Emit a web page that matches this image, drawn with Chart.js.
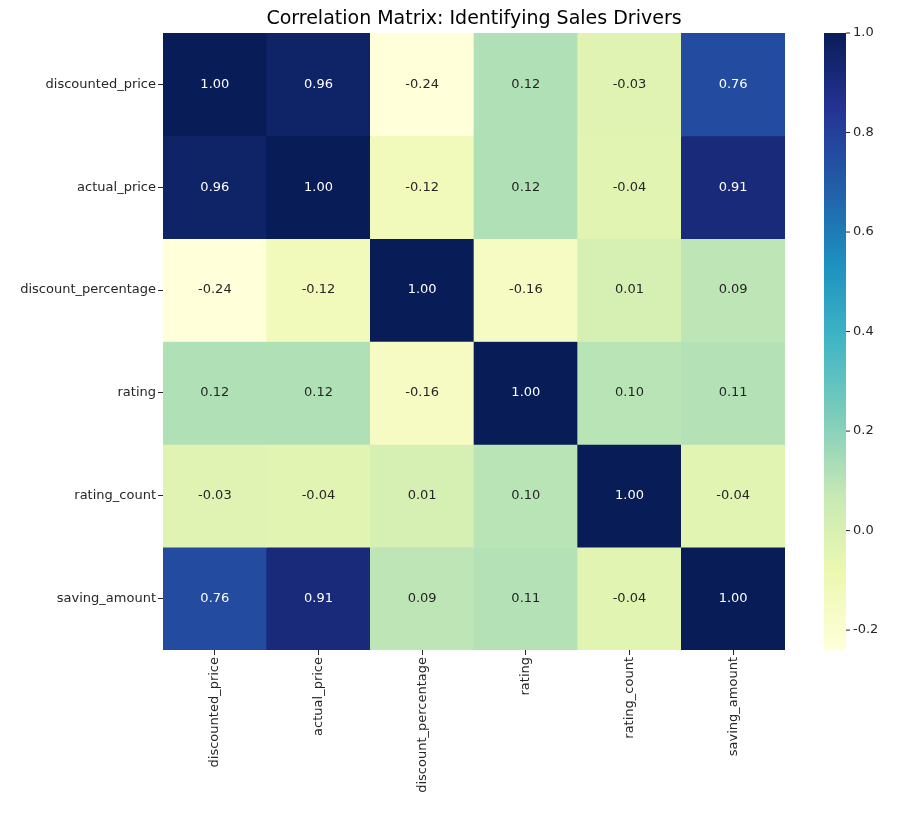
<!DOCTYPE html>
<html><head><meta charset="utf-8">
<script src="https://cdn.jsdelivr.net/npm/chart.js@4"></script>
<style>body{margin:0;background:#fff}#wrap{width:907px;height:815px}</style>
</head><body><div id="wrap"><canvas id="heat"></canvas></div>
<script>
const features = ['discounted_price','actual_price','discount_percentage','rating','rating_count','saving_amount'];
const corr = [
  [1.00, 0.96, -0.24, 0.12, -0.03, 0.76],
  [0.96, 1.00, -0.12, 0.12, -0.04, 0.91],
  [-0.24, -0.12, 1.00, -0.16, 0.01, 0.09],
  [0.12, 0.12, -0.16, 1.00, 0.10, 0.11],
  [-0.03, -0.04, 0.01, 0.10, 1.00, -0.04],
  [0.76, 0.91, 0.09, 0.11, -0.04, 1.00]
];
const barTicks = [-0.2, 0, 0.2, 0.4, 0.6, 0.8, 1.0];
const vmin = -0.24, vmax = 1.0;

const stops = ['#ffffd9','#edf8b1','#c7e9b4','#7fcdbb','#41b6c4','#1d91c0','#225ea8','#253494','#081d58'];
function hex(h){return [1,3,5].map(i=>parseInt(h.substr(i,2),16));}
function colorFor(v){
  let t = Math.min(1, Math.max(0, (v - vmin) / (vmax - vmin))) * (stops.length - 1);
  let i = Math.min(stops.length - 2, Math.floor(t)), f = t - i;
  let a = hex(stops[i]), b = hex(stops[i+1]);
  return 'rgb(' + a.map((c,k)=>Math.round(c + (b[k]-c)*f)).join(',') + ')';
}

const datasets = corr.map((row, r) => ({
  label: features[r],
  data: row.map(() => 1),
  values: row,
  backgroundColor: row.map(colorFor),
  borderWidth: 0,
  categoryPercentage: 1.0,
  barPercentage: 1.0
}));

const FONT = 'DejaVu Sans';

const extras = {
  id: 'extras',
  afterDatasetsDraw(chart) {
    const ctx = chart.ctx;
    ctx.save();
    ctx.font = '13px ' + FONT;
    ctx.textAlign = 'center'; ctx.textBaseline = 'middle';
    chart.data.datasets.forEach((ds, r) => {
      chart.getDatasetMeta(r).data.forEach((bar, c) => {
        const v = ds.values[c];
        ctx.fillStyle = v > 0.45 ? '#fff' : '#262626';
        ctx.fillText(v.toFixed(2), bar.x, (bar.y + bar.base) / 2);
      });
    });
    ctx.fillStyle = '#000';
    ctx.font = '19px ' + FONT;
    ctx.fillText('Correlation Matrix: Identifying Sales Drivers', (chart.chartArea.left + chart.chartArea.right) / 2, 19);
    const x0 = 824, w = 22, top = chart.chartArea.top, bot = chart.chartArea.bottom;
    for (let y = top; y < bot; y++) {
      const v = vmax - (y - top + 0.5) / (bot - top) * (vmax - vmin);
      ctx.fillStyle = colorFor(v);
      ctx.fillRect(x0, y, w, 1.2);
    }
    ctx.font = '13px ' + FONT;
    ctx.textAlign = 'left'; ctx.fillStyle = '#262626'; ctx.strokeStyle = '#262626';
    barTicks.forEach(t => {
      const y = top + (vmax - t) / (vmax - vmin) * (bot - top);
      ctx.beginPath(); ctx.moveTo(x0 + w, y); ctx.lineTo(x0 + w + 4, y); ctx.stroke();
      ctx.fillText(t.toFixed(1), x0 + w + 7, y);
    });
    ctx.restore();
  }
};

new Chart(document.getElementById('heat'), {
  type: 'bar',
  data: { labels: features, datasets },
  options: {
    responsive: true, maintainAspectRatio: false, animation: false,
    layout: { padding: { top: 33, right: 122, left: 0, bottom: 0 } },
    plugins: { legend: { display: false }, tooltip: { enabled: false } },
    scales: {
      x: {
        stacked: true,
        grid: { drawOnChartArea: false, drawTicks: true, tickLength: 5, color: '#262626', offset: false }, border: { display: false },
        ticks: { color: '#262626', font: { family: FONT, size: 13 }, maxRotation: 90, minRotation: 90, padding: 2 },
        afterFit(s) { s.height = 165; }
      },
      y: {
        stacked: true, min: 0, max: 6, reverse: true,
        grid: { drawOnChartArea: false, drawTicks: true, tickLength: 5, color: '#262626' }, border: { display: false },
        afterBuildTicks(s) { s.ticks = features.map((f, i) => ({ value: i + 0.5 })); },
        ticks: { color: '#262626', font: { family: FONT, size: 13 }, autoSkip: false, padding: 2,
          callback(v) { return features[Math.floor(v)]; } },
        afterFit(s) { s.width = 163; }
      }
    }
  },
  plugins: [extras]
});
</script></body></html>
